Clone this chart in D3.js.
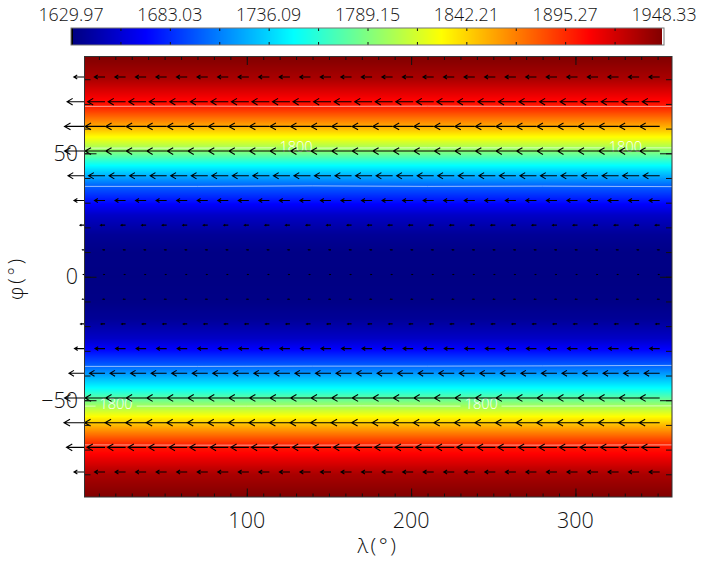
<!DOCTYPE html>
<html><head><meta charset="utf-8">
<script src="https://cdn.jsdelivr.net/npm/d3@7/dist/d3.min.js"></script>
<style>
html,body{margin:0;padding:0;background:#fff;overflow:hidden}
svg{display:block}
text{font-family:"Open Sans","Liberation Sans",sans-serif;font-weight:300;fill:#111}
</style></head><body>
<svg id="c" width="707" height="565"></svg>
<script>
// ---- data ----
const colorbarLabels = [1629.97,1683.03,1736.09,1789.15,1842.21,1895.27,1948.33];
const fieldLat = [-89,-80,-71.5,-68.3,-60,-56.6,-52.3,-45,-36,-29,-25,-17,-10,0,10,17,25,29,36.7,45,52,56.6,60,69,71.5,80,89];
const fieldT   = [1948,1935,1908,1900,1850,1829,1800,1749,1700,1668,1652,1637,1632,1631,1632,1637,1652,1668,1700,1749,1800,1829,1850,1900,1908,1935,1948];
const windLat = [80.9,70.9,60.9,50.9,40.9,30.9,20.9,10.9,0.9,-9.1,-19.1,-29.1,-39.1,-49.1,-59.1,-69.1,-79.1];
const windU   = [-10.7,-17.4,-20,-20,-16.5,-10.5,-4.5,-2,-1.2,-2,-4,-10,-15.5,-20,-20.5,-18,-10.5];
const windLon = [1.25,13.75,26.25,38.75,51.25,63.75,76.25,88.75,101.25,113.75,126.25,138.75,151.25,163.75,176.25,188.75,201.25,213.75,226.25,238.75,251.25,263.75,276.25,288.75,301.25,313.75,326.25,338.75,351.25];
const contour1700N = [[1.25,36.6],[70,36.6],[140,36.8],[210,36.6],[280,36.7],[358.75,36.5]];
const contour1800N = [[1.25,52.1],[70,52.1],[118,52.2],[130,null],[142,52.1],[210,52.2],[280,52.2],[318,52.2],[330,null],[342,52.2],[358.75,52.2]];
const contour1900N = [[1.25,69],[70,69.1],[140,69],[210,69.1],[280,69],[358.75,69]];
const contour1900S = [[1.25,-68.1],[70,-68.2],[140,-68.2],[210,-68.1],[280,-68.2],[358.75,-68.1]];
const contour1800S = [[1.25,-52.4],[8,-52.4],[20,null],[33,-52.4],[100,-52.4],[170,-52.3],[230,-52.4],[243,null],[255,-52.4],[358.75,-52.3]];
const contour1700S = [[1.25,-36.3],[70,-36.3],[140,-36.2],[210,-36.2],[280,-36.1],[358.75,-35.9]];
const contourLabels = [
 {lon:130,lat:52.8,text:"1800"},{lon:330.4,lat:52.8,text:"1800"},
 {lon:20.4,lat:-51.5,text:"1800"},{lon:242.7,lat:-51.5,text:"1800"}
];
const xTicks = [100,200,300];
const yTicks = [-50,0,50];
const jetStops = [[0,0,0,128],[0.125,0,0,255],[0.375,0,255,255],[0.625,255,255,0],[0.875,255,0,0],[1,128,0,0]];

// ---- layout ----
const L=84.5,R=672,T=56.5,B=497, barL=71,barR=664,barT=28,barB=45;
const svg=d3.select("#c");
const x=d3.scaleLinear().domain([1.25,358.75]).range([L,R]);
const y=d3.scaleLinear().domain([89.2,-89.2]).range([T,B]);
const tempOfLat=d3.scaleLinear().domain(fieldLat).range(fieldT);
const frac=d3.scaleLinear().domain([colorbarLabels[0],colorbarLabels[6]]).range([0,1]).clamp(true);
const jet=d3.scaleLinear().domain(jetStops.map(s=>s[0])).range(jetStops.map(s=>`rgb(${s[1]},${s[2]},${s[3]})`));
const color=t=>jet(frac(t));

// field: one band per pixel row
const rows=d3.range(Math.floor(T),Math.ceil(B));
svg.append("g").attr("shape-rendering","crispEdges").selectAll("rect").data(rows).join("rect")
  .attr("x",L).attr("width",R-L).attr("y",d=>d).attr("height",1.2)
  .attr("fill",d=>color(tempOfLat(y.invert(d+0.5))));

// contours
const line=d3.line().defined(d=>d[1]!==null).x(d=>x(d[0])).y(d=>y(d[1]));
const cg=svg.append("g").attr("fill","none").attr("stroke","#fff").attr("stroke-opacity",0.65).attr("stroke-width",0.9);
[contour1700N,contour1800N,contour1900N,contour1900S,contour1800S,contour1700S].forEach(c=>{
  cg.append("path").attr("d",line(c));
});

// contour labels
const lg=svg.append("g");
contourLabels.forEach(d=>{
  lg.append("text").attr("x",x(d.lon)).attr("y",y(d.lat)+5.5).attr("text-anchor","middle")
    .attr("font-size",14.5).style("fill","#fff").text(d.text);
});

// wind arrows: tail on the grid point, length from the zonal wind
const ag=svg.append("g").attr("fill","none").attr("stroke","#000").attr("stroke-width",1.1);
windLat.forEach((lat,i)=>{
  const len=windU[i];
  const yy=y(lat);
  windLon.forEach(lon=>{
    const x0=x(lon), x1=x0+len, hl=Math.min(6,Math.abs(len)*0.32), hw=Math.min(3.4,Math.abs(len)*0.19);
    ag.append("path").attr("d",`M${x0},${yy}L${x1},${yy}M${x1+hl},${yy-hw}L${x1},${yy}L${x1+hl},${yy+hw}`);
  });
});

// axes
const frame=svg.append("g");
const minorX=d3.range(10,360,10), minorY=d3.range(-80,90,10);
function ax(gen,scale,tr,vals,size){
  const g=frame.append("g").attr("transform",tr)
    .call(gen(scale).tickValues(vals).tickSize(size).tickFormat(""));
  g.select(".domain").remove();
  g.selectAll("line").attr("stroke","#111").attr("stroke-width",1);
  return g;
}
ax(d3.axisTop,x,`translate(0,${B})`,minorX,3.5);
ax(d3.axisTop,x,`translate(0,${B})`,xTicks,8.5);
ax(d3.axisBottom,x,`translate(0,${T})`,minorX,3.5);
ax(d3.axisBottom,x,`translate(0,${T})`,xTicks,8.5);
ax(d3.axisRight,y,`translate(${L},0)`,minorY,6);
ax(d3.axisRight,y,`translate(${L},0)`,yTicks,12);
ax(d3.axisLeft,y,`translate(${R},0)`,minorY,6);
ax(d3.axisLeft,y,`translate(${R},0)`,yTicks,12);
frame.append("rect").attr("x",L).attr("y",T).attr("width",R-L).attr("height",B-T)
  .attr("fill","none").attr("stroke","#333").attr("stroke-width",1);

const tick=svg.append("g").attr("font-size",21.5);
xTicks.forEach(v=>tick.append("text").attr("x",x(v)).attr("y",528).attr("text-anchor","middle").text(v));
yTicks.forEach(v=>tick.append("text").attr("x",78).attr("y",y(v)+7.5).attr("text-anchor","end").text(v<0?"\u2212"+(-v):v));
svg.append("text").attr("x",378).attr("y",553).attr("text-anchor","middle").attr("font-size",21).attr("letter-spacing",2.5).text("\u03bb(\u00b0)");
svg.append("text").attr("transform","translate(22.5,278) rotate(-90)").attr("text-anchor","middle").attr("font-size",19.5).attr("letter-spacing",3).text("\u03c6(\u00b0)");

// colour bar
const bar=d3.scaleLinear().domain([colorbarLabels[0],colorbarLabels[6]]).range([barL+1,barR-1]);
const bg=svg.append("g").attr("shape-rendering","crispEdges");
bg.selectAll("rect").data(d3.range(barL,barR)).join("rect")
  .attr("x",d=>d).attr("y",barT).attr("width",1.2).attr("height",barB-barT)
  .attr("fill",d=>d<barL+2?"#000":d>=barR-2?"#fff":color(bar.invert(d+0.5)));
const bx=d3.scaleLinear().domain([colorbarLabels[0],colorbarLabels[6]]).range([barL,barR]);
const half=d3.pairs(colorbarLabels).map(p=>(p[0]+p[1])/2);
const bt=svg.append("g").attr("transform",`translate(0,${barT})`)
  .call(d3.axisBottom(bx).tickValues(half.concat(colorbarLabels.slice(1,-1))).tickSize(3).tickFormat(""));
bt.select(".domain").remove();
bt.selectAll("line").attr("stroke","#111");
const bb=svg.append("g").attr("transform",`translate(0,${barB})`)
  .call(d3.axisTop(bx).tickValues(half.concat(colorbarLabels.slice(1,-1))).tickSize(3).tickFormat(""));
bb.select(".domain").remove();
bb.selectAll("line").attr("stroke","#111");
svg.append("rect").attr("x",barL).attr("y",barT).attr("width",barR-barL).attr("height",barB-barT)
  .attr("fill","none").attr("stroke","#777").attr("stroke-width",1);
svg.append("g").attr("font-size",17.8).selectAll("text").data(colorbarLabels).join("text")
  .attr("x",d=>bx(d)).attr("y",20.5).attr("text-anchor","middle")
  .text(d=>d.toFixed(2));
</script>
</body></html>
